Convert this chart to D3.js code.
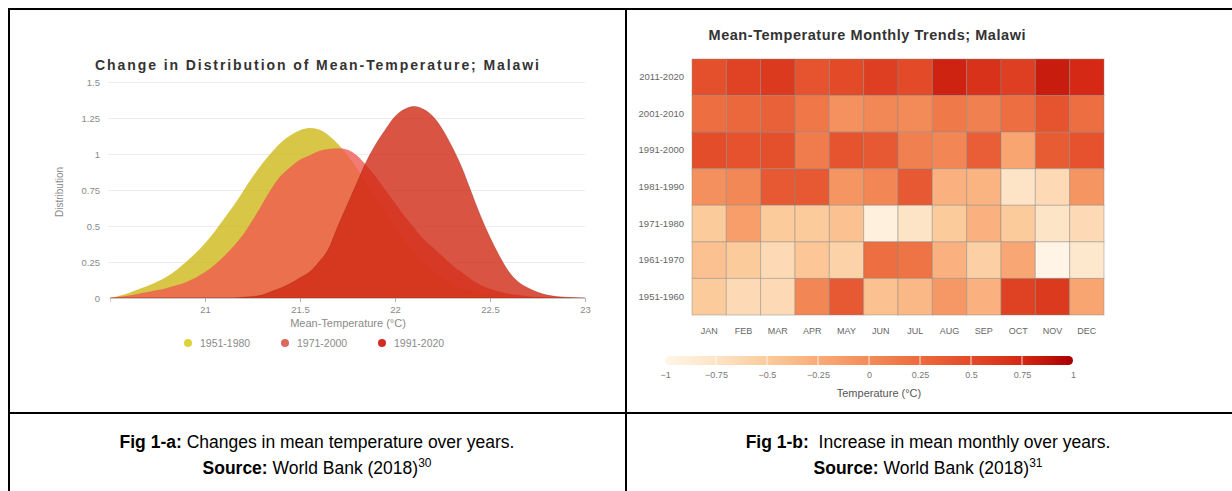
<!DOCTYPE html>
<html>
<head>
<meta charset="utf-8">
<script src="https://cdn.jsdelivr.net/npm/d3@7"></script>
<style>
  html, body { margin: 0; padding: 0; background: #fff; }
  svg { display: block; font-family: "Liberation Sans", Arial, sans-serif; }
</style>
</head>
<body>
<svg id="fig" width="1232" height="491"></svg>
<script>
// ---- Distribution chart data (density by mean temperature, °C) ----
const temps = [20.50, 20.55, 20.60, 20.65, 20.70, 20.75, 20.80, 20.85, 20.90, 20.95,
  21.00, 21.05, 21.10, 21.15, 21.20, 21.25, 21.30, 21.35, 21.40, 21.45,
  21.50, 21.55, 21.60, 21.65, 21.70, 21.75, 21.80, 21.85, 21.90, 21.95,
  22.00, 22.05, 22.10, 22.15, 22.20, 22.25, 22.30, 22.35, 22.40, 22.45,
  22.50, 22.55, 22.60, 22.65, 22.70, 22.75, 22.80, 22.85, 22.90, 22.95, 23.00];

const dist1951 = [0.00, 0.015, 0.035, 0.06, 0.085, 0.115, 0.15, 0.195, 0.25, 0.31,
  0.38, 0.46, 0.55, 0.64, 0.74, 0.84, 0.93, 1.01, 1.08, 1.13,
  1.165, 1.18, 1.17, 1.13, 1.07, 0.99, 0.90, 0.80, 0.69, 0.59,
  0.49, 0.40, 0.32, 0.25, 0.19, 0.14, 0.10, 0.07, 0.05, 0.035,
  0.024, 0.016, 0.010, 0.006, 0.004, 0.002, 0.001, 0, 0, 0, 0];

const dist1971 = [0.00, 0.008, 0.018, 0.03, 0.042, 0.055, 0.07, 0.088, 0.11, 0.14,
  0.18, 0.23, 0.29, 0.36, 0.44, 0.54, 0.65, 0.76, 0.85, 0.91,
  0.96, 0.99, 1.02, 1.035, 1.04, 1.03, 0.99, 0.92, 0.84, 0.75,
  0.66, 0.57, 0.49, 0.41, 0.35, 0.29, 0.23, 0.18, 0.13, 0.09,
  0.065, 0.045, 0.03, 0.02, 0.013, 0.008, 0.005, 0.003, 0.002, 0.001, 0];

const dist1991 = [0, 0, 0, 0, 0, 0, 0, 0, 0, 0,
  0, 0, 0, 0, 0.005, 0.01, 0.02, 0.045, 0.07, 0.10,
  0.14, 0.18, 0.25, 0.34, 0.50, 0.65, 0.80, 0.95, 1.07, 1.17,
  1.26, 1.31, 1.33, 1.31, 1.26, 1.17, 1.05, 0.91, 0.74, 0.57,
  0.42, 0.29, 0.18, 0.11, 0.07, 0.04, 0.02, 0.01, 0.005, 0.002, 0];

const periodNames = ["1951-1980", "1971-2000", "1991-2020"];
const periodFills = ["#ceb818", "#ef5a50", "#d02914"];
const periodDots  = ["#dcd43a", "#dc6a5c", "#d42a26"];
const distTicksY = [0, 0.25, 0.5, 0.75, 1, 1.25, 1.5];
const distTicksX = [21, 21.5, 22, 22.5, 23];

// ---- Monthly anomaly heatmap data (°C) ----
const months = ["JAN", "FEB", "MAR", "APR", "MAY", "JUN", "JUL", "AUG", "SEP", "OCT", "NOV", "DEC"];
const decades = ["2011-2020", "2001-2010", "1991-2000", "1981-1990", "1971-1980", "1961-1970", "1951-1960"];
const anom2011 = [0.45, 0.55, 0.62, 0.42, 0.50, 0.58, 0.50, 0.78, 0.68, 0.58, 0.82, 0.74];
const anom2001 = [0.22, 0.27, 0.32, 0.15, -0.05, 0.02, 0.00, 0.14, 0.08, 0.22, 0.42, 0.22];
const anom1991 = [0.48, 0.44, 0.46, 0.12, 0.42, 0.38, 0.08, 0.04, 0.34, -0.20, 0.36, 0.44];
const anom1981 = [-0.04, 0.02, 0.38, 0.38, -0.08, 0.04, 0.38, -0.30, -0.32, -0.75, -0.65, -0.08];
const anom1971 = [-0.50, -0.15, -0.50, -0.50, -0.42, -0.92, -0.75, -0.50, -0.30, -0.50, -0.75, -0.65];
const anom1961 = [-0.42, -0.50, -0.65, -0.46, -0.58, 0.22, 0.18, -0.30, -0.55, -0.22, -0.98, -0.80];
const anom1951 = [-0.50, -0.65, -0.65, 0.04, 0.38, -0.42, -0.35, -0.10, -0.30, 0.56, 0.62, -0.20];
const anomRows = [anom2011, anom2001, anom1991, anom1981, anom1971, anom1961, anom1951];
const legendTicks = [-1, -0.75, -0.5, -0.25, 0, 0.25, 0.5, 0.75, 1];
const legendStops = [-1, -0.75, -0.5, -0.25, 0, 0.25, 0.5, 0.75, 1];
const legendColors = ["#fff5e8", "#fde4c6", "#fccb9c", "#f9ab78", "#f38b58", "#ec6a3e", "#e34a28", "#d42814", "#a80000"];

const FONT = "Liberation Sans, Arial, sans-serif";
const svg = d3.select("#fig");
svg.append("rect").attr("width", 1232).attr("height", 491).attr("fill", "#fff");

// ================= Left panel: density curves =================
const x = d3.scaleLinear().domain([20.5, 23]).range([110, 585]);
const y = d3.scaleLinear().domain([0, 1.5]).range([298, 82]);
const left = svg.append("g");

left.append("text")
  .attr("x", 317).attr("y", 70)
  .attr("text-anchor", "middle")
  .attr("font-size", 14).attr("font-weight", "bold").attr("fill", "#333")
  .attr("textLength", 444).attr("lengthAdjust", "spacing")
  .text("Change in Distribution of Mean-Temperature; Malawi");

// y axis with light horizontal grid
const yAxis = left.append("g")
  .attr("transform", "translate(108,0)")
  .call(d3.axisLeft(y).tickValues(distTicksY).tickSize(-477).tickPadding(8)
    .tickFormat(d => d3.format("~g")(d)));
yAxis.select(".domain").remove();
yAxis.selectAll(".tick line").attr("stroke", "#ececec");
yAxis.selectAll(".tick text").attr("fill", "#8a8a8a").attr("font-size", 9.5)
  .attr("font-family", FONT);

// density areas
const series = [dist1951, dist1971, dist1991];
const area = d3.area()
  .x((d, i) => x(temps[i]))
  .y0(y(0))
  .y1(d => y(d))
  .curve(d3.curveMonotoneX);
series.forEach((vals, k) => {
  left.append("path")
    .datum(vals)
    .attr("d", area)
    .attr("fill", periodFills[k])
    .attr("fill-opacity", 0.8)
    .attr("stroke", k === 2 ? "#9c2a1c" : "none")
    .attr("stroke-opacity", 0.5)
    .attr("stroke-width", 0.8);
});

// x axis
const xAxis = left.append("g")
  .attr("transform", "translate(0,298)")
  .call(d3.axisBottom(x).tickValues(distTicksX).tickSize(4).tickPadding(4)
    .tickFormat(d => d3.format("~g")(d)));
xAxis.select(".domain").attr("stroke", "#c8c8c8");
xAxis.selectAll(".tick line").attr("stroke", "#b0b0b0");
xAxis.selectAll(".tick text").attr("fill", "#8a8a8a").attr("font-size", 9.5)
  .attr("font-family", FONT);

left.append("text")
  .attr("x", 348).attr("y", 327)
  .attr("text-anchor", "middle").attr("font-size", 11).attr("fill", "#8a8a8a")
  .text("Mean-Temperature (°C)");

left.append("text")
  .attr("transform", "translate(63,192) rotate(-90)")
  .attr("text-anchor", "middle").attr("font-size", 10).attr("fill", "#8a8a8a")
  .text("Distribution");

// legend
const legX = [188, 285, 382];
periodNames.forEach((name, k) => {
  left.append("circle").attr("cx", legX[k]).attr("cy", 343).attr("r", 4)
    .attr("fill", periodDots[k]);
  left.append("text").attr("x", legX[k] + 12).attr("y", 346.5)
    .attr("font-size", 10.5).attr("fill", "#8a8a8a").text(name);
});

// ================= Right panel: heatmap =================
const right = svg.append("g");
const xh = d3.scaleBand().domain(months).range([692, 1104]);
const yh = d3.scaleBand().domain(decades).range([59, 315]);
const color = d3.scaleLinear().domain(legendStops).range(legendColors)
  .interpolate(d3.interpolateRgb).clamp(true);

right.append("text")
  .attr("x", 867).attr("y", 40)
  .attr("text-anchor", "middle")
  .attr("font-size", 14.5).attr("font-weight", "bold").attr("fill", "#333")
  .attr("textLength", 317).attr("lengthAdjust", "spacing")
  .text("Mean-Temperature Monthly Trends; Malawi");

const cells = [];
decades.forEach((dec, r) => months.forEach((m, c) => cells.push({ dec, m, v: anomRows[r][c] })));
right.append("g").selectAll("rect").data(cells).join("rect")
  .attr("x", d => xh(d.m)).attr("y", d => yh(d.dec))
  .attr("width", xh.bandwidth()).attr("height", yh.bandwidth())
  .attr("fill", d => color(d.v))
  .attr("stroke", "rgba(140,135,130,0.45)").attr("stroke-width", 1);

const rowAxis = right.append("g").attr("transform", "translate(690,0)")
  .call(d3.axisLeft(yh).tickSize(0).tickPadding(6));
rowAxis.select(".domain").remove();
rowAxis.selectAll("text").attr("fill", "#666").attr("font-size", 9.5)
  .attr("font-family", FONT);

const colAxis = right.append("g").attr("transform", "translate(0,318)")
  .call(d3.axisBottom(xh).tickSize(0).tickPadding(10));
colAxis.select(".domain").remove();
colAxis.selectAll("text").attr("fill", "#666").attr("font-size", 9)
  .attr("font-family", FONT);

// colour legend
const cx = d3.scaleLinear().domain([-1, 1]).range([665, 1073]);
const grad = svg.append("defs").append("linearGradient").attr("id", "tempGrad")
  .attr("x1", "0%").attr("x2", "100%");
legendStops.forEach((s, i) => grad.append("stop")
  .attr("offset", ((s + 1) / 2 * 100) + "%").attr("stop-color", legendColors[i]));
right.append("rect")
  .attr("x", cx(-1)).attr("y", 356).attr("width", cx(1) - cx(-1)).attr("height", 9)
  .attr("rx", 4.5).attr("fill", "url(#tempGrad)");
right.append("g").selectAll("line").data(legendTicks.slice(1, -1)).join("line")
  .attr("x1", d => cx(d)).attr("x2", d => cx(d)).attr("y1", 356).attr("y2", 365)
  .attr("stroke", "#fff").attr("stroke-opacity", 0.8).attr("stroke-width", 1);
const legAxis = right.append("g").attr("transform", "translate(0,367)")
  .call(d3.axisBottom(cx).tickValues(legendTicks).tickSize(0).tickPadding(5)
    .tickFormat(d => d3.format("~g")(d)));
legAxis.select(".domain").remove();
legAxis.selectAll("text").attr("fill", "#777").attr("font-size", 9)
  .attr("font-family", FONT);
right.append("text")
  .attr("x", 879).attr("y", 397).attr("text-anchor", "middle")
  .attr("font-size", 11).attr("fill", "#555").text("Temperature (°C)");

// ================= Table frame and captions =================
const frame = svg.append("g").attr("stroke", "#000").attr("stroke-width", 2);
frame.append("line").attr("x1", 8).attr("x2", 1232).attr("y1", 9).attr("y2", 9);
frame.append("line").attr("x1", 9).attr("x2", 9).attr("y1", 8).attr("y2", 491);
frame.append("line").attr("x1", 626).attr("x2", 626).attr("y1", 8).attr("y2", 491);
frame.append("line").attr("x1", 8).attr("x2", 1232).attr("y1", 413).attr("y2", 413);

function caption(cxPos, figLabel, figText, ref) {
  const t1 = svg.append("text").attr("x", cxPos).attr("y", 447.5)
    .attr("text-anchor", "middle").attr("font-size", 17.5).attr("fill", "#000")
    .style("white-space", "pre");
  t1.append("tspan").attr("font-weight", "bold").text(figLabel);
  t1.append("tspan").text(figText);
  const t2 = svg.append("text").attr("x", cxPos).attr("y", 473.5)
    .attr("text-anchor", "middle").attr("font-size", 17.5).attr("fill", "#000");
  t2.append("tspan").attr("font-weight", "bold").text("Source:");
  t2.append("tspan").text(" World Bank (2018)");
  t2.append("tspan").attr("font-size", 12).attr("dy", -7).text(ref);
}
caption(317, "Fig 1-a:", " Changes in mean temperature over years.", "30");
caption(928, "Fig 1-b:", "  Increase in mean monthly over years.", "31");
</script>
</body>
</html>
